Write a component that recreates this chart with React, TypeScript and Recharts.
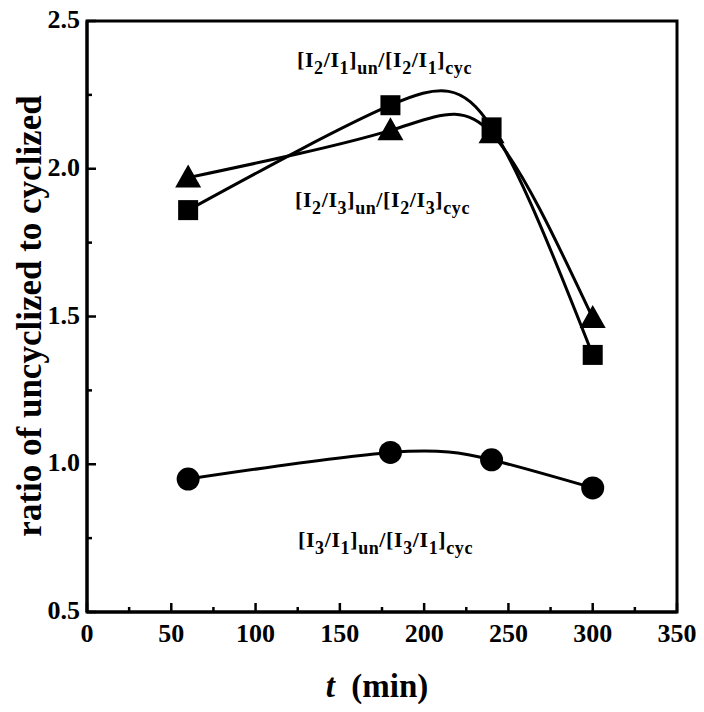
import { LineChart, Line, XAxis, YAxis, ReferenceArea } from "recharts";

const times = [60, 180, 240, 300];
const ratioI2I1 = [1.86, 2.215, 2.14, 1.37];
const ratioI2I3 = [1.97, 2.13, 2.12, 1.495];
const ratioI3I1 = [0.95, 1.04, 1.015, 0.92];

const xTicks = [0, 25, 50, 75, 100, 125, 150, 175, 200, 225, 250, 275, 300, 325, 350];
const yTicks = [0.5, 0.75, 1.0, 1.25, 1.5, 1.75, 2.0, 2.25, 2.5];

const data = times.map((t, i) => ({
  t,
  i2i1: ratioI2I1[i],
  i2i3: ratioI2I3[i],
  i3i1: ratioI3I1[i],
}));

const serif = {
  fontFamily: '"Liberation Serif", "Times New Roman", Times, "DejaVu Serif", serif',
  fontWeight: 700,
};

function XTick({ x, y, payload }: any) {
  const major = payload.value % 50 === 0;
  return (
    <g>
      <line x1={x} x2={x} y1={y} y2={y - (major ? 9 : 5)} stroke="#000" strokeWidth={2.5} />
      {major && (
        <text x={x} y={y + 30} textAnchor="middle" style={{ ...serif, fontSize: 26 }} fill="#000">
          {payload.value}
        </text>
      )}
    </g>
  );
}

function YTick({ x, y, payload }: any) {
  const major = Math.abs((payload.value * 2) % 1) < 1e-6;
  return (
    <g>
      <line x1={x} x2={x + (major ? 9 : 5)} y1={y} y2={y} stroke="#000" strokeWidth={2.5} />
      {major && (
        <text x={x - 7} y={y + 7} textAnchor="end" style={{ ...serif, fontSize: 26 }} fill="#000">
          {payload.value.toFixed(1)}
        </text>
      )}
    </g>
  );
}

function Square({ cx, cy, index }: any) {
  return <rect key={`s${index}`} x={cx - 10} y={cy - 10} width={20} height={20} fill="#000" />;
}

function Triangle({ cx, cy, index }: any) {
  return (
    <polygon
      key={`t${index}`}
      points={`${cx},${cy - 13} ${cx + 13},${cy + 10} ${cx - 13},${cy + 10}`}
      fill="#000"
    />
  );
}

function Circle({ cx, cy, index }: any) {
  return <circle key={`c${index}`} cx={cx} cy={cy} r={11.5} fill="#000" />;
}

function Ratio({ x, y, a, b }: { x: number; y: number; a: string; b: string }) {
  const sub = 18;
  const d = 7;
  return (
    <text x={x} y={y} style={{ ...serif, fontSize: 22, letterSpacing: 0.6 }} fill="#000">
      <tspan>[I</tspan>
      <tspan fontSize={sub} dy={d}>{a}</tspan>
      <tspan dy={-d}>/I</tspan>
      <tspan fontSize={sub} dy={d}>{b}</tspan>
      <tspan dy={-d}>]</tspan>
      <tspan fontSize={sub} dy={d}>un</tspan>
      <tspan dy={-d}>/[I</tspan>
      <tspan fontSize={sub} dy={d}>{a}</tspan>
      <tspan dy={-d}>/I</tspan>
      <tspan fontSize={sub} dy={d}>{b}</tspan>
      <tspan dy={-d}>]</tspan>
      <tspan fontSize={sub} dy={d}>cyc</tspan>
    </text>
  );
}

export default function App() {
  return (
    <div style={{ position: "absolute", left: 0, top: 0, width: 704, height: 712, background: "#fff" }}>
      <LineChart width={704} height={712} data={data} margin={{ top: 21, right: 27, left: 27, bottom: 60 }}>
        <XAxis
          dataKey="t"
          type="number"
          domain={[0, 350]}
          ticks={xTicks}
          interval={0}
          tickSize={0}
          tickMargin={0}
          tick={<XTick />}
          height={40}
          axisLine={{ stroke: "#000", strokeWidth: 3 }}
        />
        <YAxis
          type="number"
          domain={[0.5, 2.5]}
          ticks={yTicks}
          interval={0}
          tickSize={0}
          tickMargin={0}
          tick={<YTick />}
          width={60}
          axisLine={{ stroke: "#000", strokeWidth: 3 }}
        />
        <ReferenceArea x1={0} x2={350} y1={0.5} y2={2.5} fill="none" stroke="#000" strokeWidth={3} />
        <Line dataKey="i2i1" type="natural" stroke="#000" strokeWidth={3} dot={Square} isAnimationActive={false} />
        <Line dataKey="i2i3" type="natural" stroke="#000" strokeWidth={3} dot={Triangle} isAnimationActive={false} />
        <Line dataKey="i3i1" type="natural" stroke="#000" strokeWidth={3} dot={Circle} isAnimationActive={false} />
      </LineChart>
      <svg width={704} height={712} style={{ position: "absolute", left: 0, top: 0, pointerEvents: "none" }}>
        <text
          transform="translate(29,316) rotate(-90)"
          textAnchor="middle"
          dominantBaseline="central"
          style={{ ...serif, fontSize: 35 }}
          fill="#000"
        >
          ratio of uncyclized to cyclized
        </text>
        <text x={377} y={697} textAnchor="middle" style={{ ...serif, fontSize: 33, whiteSpace: "pre" }} fill="#000">
          <tspan fontStyle="italic">t</tspan>
          <tspan>{"  (min)"}</tspan>
        </text>
        <Ratio x={297} y={67} a="2" b="1" />
        <Ratio x={295} y={207} a="2" b="3" />
        <Ratio x={298} y={547} a="3" b="1" />
      </svg>
    </div>
  );
}
